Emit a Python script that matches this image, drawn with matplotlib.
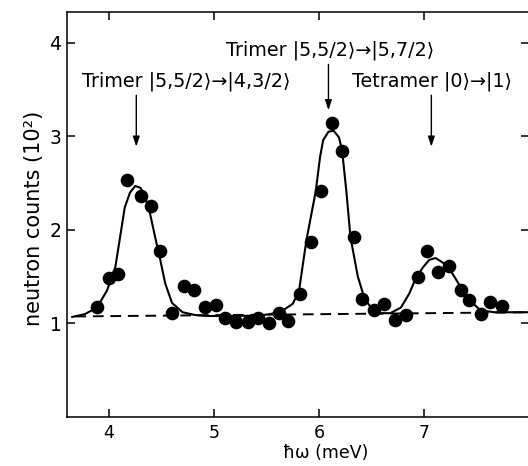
import matplotlib
matplotlib.use("Agg")
import matplotlib.pyplot as plt

# measured data points (energy in meV, counts in 10^2)
x_data = [3.885, 4.00, 4.09, 4.17, 4.30, 4.40, 4.49, 4.60, 4.71, 4.81, 4.91, 5.02,
          5.10, 5.21, 5.32, 5.42, 5.52, 5.62, 5.70, 5.82, 5.92, 6.02, 6.12, 6.22,
          6.33, 6.41, 6.52, 6.62, 6.72, 6.83, 6.94, 7.03, 7.13, 7.24, 7.35, 7.43,
          7.54, 7.63, 7.74]
y_data = [1.18, 1.49, 1.53, 2.53, 2.36, 2.26, 1.77, 1.11, 1.40, 1.36, 1.18, 1.20,
          1.06, 1.02, 1.02, 1.06, 1.00, 1.11, 1.03, 1.31, 1.87, 2.42, 3.14, 2.84,
          1.92, 1.26, 1.14, 1.21, 1.04, 1.09, 1.50, 1.77, 1.55, 1.61, 1.36, 1.25,
          1.10, 1.23, 1.19]

# fitted curve
curve_x = [3.65, 3.77, 3.885, 3.98, 4.06, 4.105, 4.15, 4.20, 4.25, 4.30, 4.34, 4.39,
           4.44, 4.49, 4.535, 4.60, 4.70, 4.82, 4.95, 5.20, 5.45, 5.63, 5.75, 5.81,
           5.88, 5.97, 6.01, 6.04, 6.09, 6.14, 6.19, 6.22, 6.26, 6.30, 6.37, 6.43,
           6.51, 6.58, 6.68, 6.78, 6.86, 6.92, 6.99, 7.05, 7.11, 7.18, 7.24, 7.30,
           7.38, 7.47, 7.54, 7.67, 8.00]
curve_y = [1.07, 1.10, 1.17, 1.35, 1.60, 1.92, 2.24, 2.40, 2.47, 2.45, 2.37, 2.18,
           1.92, 1.67, 1.43, 1.22, 1.12, 1.09, 1.08, 1.08, 1.085, 1.12, 1.21, 1.35,
           1.89, 2.42, 2.78, 2.96, 3.05, 3.06, 2.99, 2.85, 2.42, 1.92, 1.50, 1.28,
           1.14, 1.11, 1.11, 1.17, 1.32, 1.48, 1.60, 1.68, 1.70, 1.65, 1.59, 1.48,
           1.33, 1.21, 1.14, 1.12, 1.12]

# background (dashed)
base_x = [3.68, 8.00]
base_y = [1.075, 1.12]

# annotations: label, text x, text y (baseline), arrow x, arrow top, arrow tip
labels = ["Trimer |5,5/2\u27e9\u2192|4,3/2\u27e9",
          "Trimer |5,5/2\u27e9\u2192|5,7/2\u27e9",
          "Tetramer |0\u27e9\u2192|1\u27e9"]
label_x = [4.735, 6.11, 7.08]
label_y = [3.53, 3.87, 3.53]
arrow_x = [4.26, 6.09, 7.07]
arrow_top = [3.44, 3.77, 3.44]
arrow_tip = [2.89, 3.28, 2.89]

xticks = [4, 5, 6, 7]
yticks = [1, 2, 3, 4]

fig = plt.figure(figsize=(5.28, 4.66), dpi=100)
ax = fig.add_axes([67/528, 49/466, 462/528, 405/466])

ax.plot(base_x, base_y, color="black", lw=1.4, ls=(0, (5.5, 3.5)))
ax.plot(curve_x, curve_y, color="black", lw=1.5, solid_joinstyle="round")
ax.plot(x_data, y_data, "o", color="black", ms=8.8, mec="black")

for t, tx, ty, axx, at, ap in zip(labels, label_x, label_y, arrow_x, arrow_top, arrow_tip):
    ax.text(tx, ty, t, ha="center", va="baseline", fontsize=13.8)
    ax.annotate("", xy=(axx, ap), xytext=(axx, at),
                arrowprops=dict(arrowstyle="-|>,head_length=0.6,head_width=0.2",
                                color="black", lw=1.0, shrinkA=0, shrinkB=0))

ax.set_xlim(3.6, 8.0)
ax.set_ylim(0, 4.33)
ax.set_xticks(xticks)
ax.set_yticks(yticks)
ax.tick_params(direction="in", length=6, width=1.1, top=True, right=True,
               labelsize=12.5, pad=5)
ax.tick_params(axis="y", pad=4, labelsize=13.5)
for s in ax.spines.values():
    s.set_linewidth(1.1)

ax.set_xlabel("\u0127\u03c9 (meV)", fontsize=12.5)
ax.xaxis.set_label_coords(0.56, -0.066)
ax.set_ylabel("neutron counts (10\u00b2)", fontsize=15)
ax.yaxis.set_label_coords(-0.05, 0.49)

fig.savefig("out.png", dpi=100)
